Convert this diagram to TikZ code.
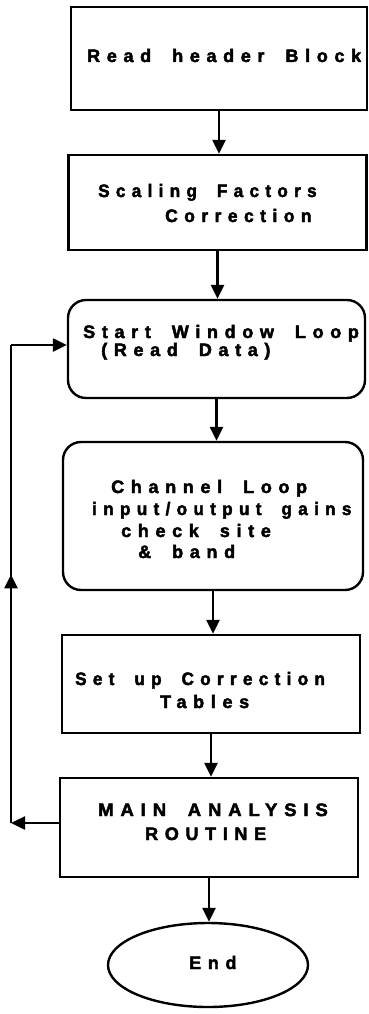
\documentclass[tikz,border=0pt]{standalone}
\usepackage{fontspec}
\newfontfamily\flowfont[LetterSpace=37,WordSpace=1.8,FakeBold=2.5]{Liberation Sans Bold}
\usetikzlibrary{arrows.meta,shapes.geometric,decorations.markings}
\tikzset{
  box/.style={draw, line width=2.4pt, inner sep=0pt},
  rbox/.style={box, rounded corners=18pt},
  endshape/.style={draw, ellipse, line width=2.4pt, inner sep=0pt},
  txt/.style={inner sep=0pt, anchor=base west, font=\fontsize{18}{20}\flowfont},
  arr/.style={line width=2.4pt, -{Triangle[width=13pt,length=14pt]}},
  midarr/.style={line width=2.4pt, postaction={decorate},
    decoration={markings, mark=at position 0.52 with {\arrow{Triangle[width=13pt,length=14pt]}}}}
}
\begin{document}
\begin{tikzpicture}[x=1pt,y=-1pt]
\useasboundingbox (0,0) rectangle (369,1014);
% boxes
\node[box,  minimum width=296pt, minimum height=103pt] (b1) at (219,58.5) {};
\node[box,  minimum width=298pt, minimum height=95pt]  (b2) at (217.5,202.5) {};
\node[rbox, minimum width=297pt, minimum height=98pt]  (b3) at (216.5,349) {};
\node[rbox, minimum width=300pt, minimum height=148pt] (b4) at (213,516) {};
\node[box,  minimum width=298pt, minimum height=98pt]  (b5) at (211,684) {};
\node[box,  minimum width=298pt, minimum height=99pt]  (b6) at (209,827.5) {};
\node[endshape, minimum width=200pt, minimum height=84pt] (e) at (208,965) {};
% texts
\node[txt] (t1)  at (87,62)   {Read header Block};
\node[txt] (t2a) at (98,197)  {\scalebox{0.95}[1]{Scaling Factors}};
\node[txt] (t2b) at (165,222) {\scalebox{0.97}[1]{Correction}};
\node[txt] (t3a) at (83,338)  {Start Window Loop};
\node[txt] (t3b) at (101,356) {(Read Data)};
\node[txt] (t4a) at (111,493) {Channel Loop};
\node[txt] (t4b) at (92,515)  {\scalebox{0.95}[1]{input/output gains}};
\node[txt] (t4c) at (121,537) {check site};
\node[txt] (t4d) at (138,558) {\& band};
\node[txt] (t5a) at (75,685)  {\scalebox{0.95}[1]{Set up Correction}};
\node[txt] (t5b) at (160,708) {Tables};
\node[txt] (t6a) at (98,816)  {\scalebox{1.03}[1]{MAIN ANALYSIS}};
\node[txt] (t6b) at (145,840) {ROUTINE};
\node[txt] (te)  at (189,969) {End};
% main flow
\draw[arr] (b1.south) -- (b1.south |- b2.north);
\draw[arr] (b2.south) -- (b2.south |- b3.north);
\draw[arr] (b3.south) -- (b3.south |- b4.north);
\draw[arr] (b4.south) -- (b4.south |- b5.north);
\draw[arr] (b5.south) -- (b5.south |- b6.north);
\draw[arr] (b6.south) -- (b6.south |- e.north);
% feedback loop
\coordinate (fl) at (11,823);
\coordinate (ft) at (11,345);
\draw[arr] (b6.west |- fl) -- (fl);
\draw[midarr] (fl) -- (ft);
\draw[arr] (ft) -- (ft -| b3.west);
\end{tikzpicture}
\end{document}
